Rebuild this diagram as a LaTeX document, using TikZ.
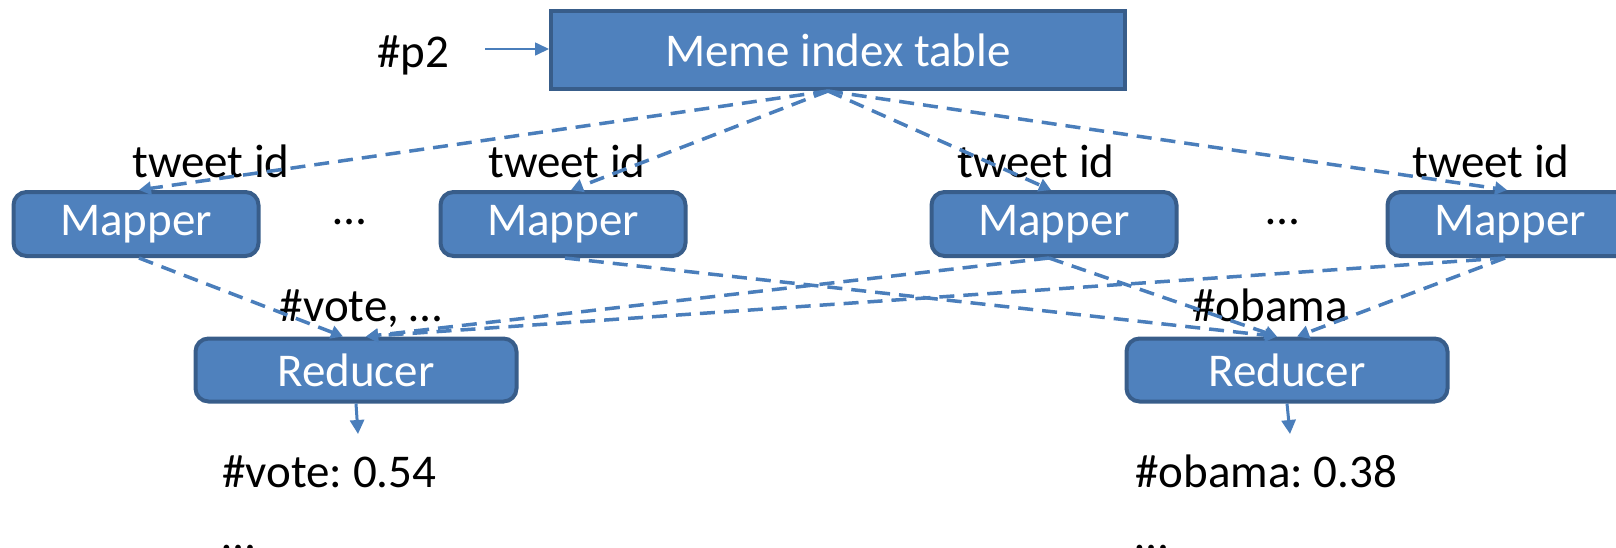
\documentclass[tikz,border=0pt]{standalone}
\usepackage{fontspec}
\setmainfont{Carlito}
\usetikzlibrary{arrows.meta}
\frenchspacing
\definecolor{boxfill}{HTML}{4F81BD}
\definecolor{boxedge}{HTML}{385D8A}
\definecolor{wire}{HTML}{4A7EBB}
\tikzset{
  txt/.style={font=\fontsize{47}{56}\selectfont, inner sep=0pt},
  blockbox/.style={draw=boxedge, fill=boxfill, line width=4pt, text=white,
    font=\fontsize{47}{56}\selectfont, inner sep=0pt},
  mapbox/.style={blockbox, rounded corners=13pt, minimum width=245pt, minimum height=64pt},
  redbox/.style={blockbox, rounded corners=13pt, minimum width=321pt, minimum height=63pt},
  flow/.style={wire, line width=3.5pt, dash pattern=on 15pt off 9pt,
    -{Triangle[length=12pt,width=13pt]}},
  outarrow/.style={wire, line width=3pt, -{Triangle[length=14pt,width=14pt]}},
  inarrow/.style={wire, line width=1.6pt, -{Triangle[length=14pt,width=13pt]}},
}
\begin{document}
\begin{tikzpicture}[x=1pt,y=-1pt]
\useasboundingbox (0,0) rectangle (1616,547);

% index table and its query
\node[blockbox, minimum width=574pt, minimum height=78pt] (meme) at (838,50) {Meme index table};
\node[txt, anchor=base] (p2) at (413,67) {\#p2};
\coordinate (p2start) at (485,49);
\draw[inarrow] (p2start) -- (meme.west |- p2start);

% mappers
\node[mapbox] (m1) at (136,224) {Mapper};
\node[mapbox] (m2) at (563,224) {Mapper};
\node[mapbox] (m3) at (1054,224) {Mapper};
\node[mapbox] (m4) at (1510,224) {Mapper};
\node[txt] (d1) at (350,222) {…};
\node[txt] (d2) at (1283,222) {…};

% labels above mappers
\node[txt, anchor=base] (t1) at (211,177) {tweet id};
\node[txt, anchor=base] (t2) at (567,177) {tweet id};
\node[txt, anchor=base] (t3) at (1036,177) {tweet id};
\node[txt, anchor=base] (t4) at (1491,177) {tweet id};

% reducers
\node[redbox] (r1) at (356,370) {Reducer};
\node[redbox] (r2) at (1287,370) {Reducer};
\node[txt, anchor=base] (k1) at (361,321) {\#vote, …};
\node[txt, anchor=base] (k2) at (1270,321) {\#obama};

% results
\node[txt, anchor=base west] (o1) at (222,487) {\#vote: 0.54};
\node[txt, anchor=base west] (e1) at (222,550) {…};
\node[txt, anchor=base west] (o2) at (1135,487) {\#obama: 0.38};
\node[txt, anchor=base west] (e2) at (1135,550) {…};

% index lookups
\draw[flow] ([xshift=-10pt]meme.south) -- ([xshift=3pt]m1.north);
\draw[flow] ([xshift=-10pt]meme.south) -- ([xshift=8pt]m2.north);
\draw[flow] ([xshift=-10pt]meme.south) -- ([xshift=-3pt]m3.north);
\draw[flow] ([xshift=-10pt]meme.south) -- ([xshift=-3pt]m4.north);

% shuffle to reducers
\draw[flow] ([xshift=3pt]m1.south) -- ([xshift=-13pt]r1.north);
\draw[flow] ([xshift=2pt]m2.south) -- ([xshift=-10pt]r2.north);
\draw[flow] ([xshift=-5pt]m3.south) -- ([xshift=10pt]r1.north);
\draw[flow] ([xshift=-5pt]m3.south) -- ([xshift=-10pt]r2.north);
\draw[flow] ([xshift=-5pt]m4.south) -- ([xshift=10pt]r1.north);
\draw[flow] ([xshift=-5pt]m4.south) -- ([xshift=10pt]r2.north);

% reducer outputs
\coordinate (r1end) at (358,434);
\coordinate (r2end) at (1290,434);
\draw[outarrow] (r1.south) -- (r1end);
\draw[outarrow] (r2.south) -- (r2end);
\end{tikzpicture}
\end{document}
